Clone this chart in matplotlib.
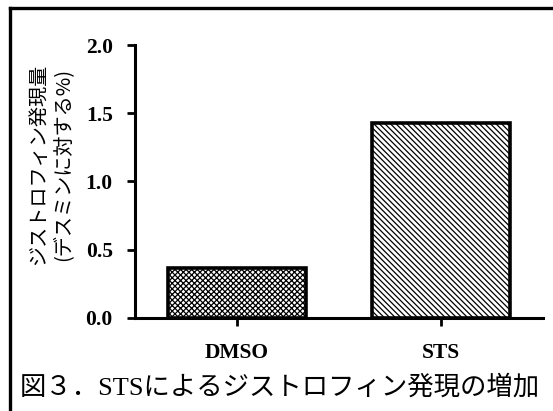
import numpy as np
import matplotlib.pyplot as plt
from matplotlib.lines import Line2D

# データ
groups = ["DMSO", "STS"]
values = [0.365, 1.43]
hatches = ["xxxxxx", "\\\\\\\\\\\\"]
yticks = [0.0, 0.5, 1.0, 1.5, 2.0]

serif_jp = ["Liberation Serif", "Noto Sans CJK JP"]

plt.rcParams["hatch.linewidth"] = 0.9

fig = plt.figure(figsize=(5.53, 4.11), dpi=100)
ax = fig.add_axes([0.2441, 0.2263, 0.7378, 0.6642])

x = np.arange(len(groups))
ax.bar(x, values, width=0.68, color="white", edgecolor="black",
       linewidth=2.6, hatch=hatches)

ax.set_xlim(-0.5, 1.5)
ax.set_ylim(0, 2.0)
ax.set_xticks(x)
ax.set_xticklabels(groups, fontfamily="Liberation Serif", fontweight="bold", fontsize=15.5)
ax.set_yticks(yticks)
ax.set_yticklabels([f"{v:.1f}" for v in yticks], fontfamily="Liberation Serif",
                   fontweight="bold", fontsize=15.5)
ax.tick_params(axis="y", length=6, width=2, pad=10)
ax.tick_params(axis="x", length=6, width=2, pad=12)

for s in ["top", "right"]:
    ax.spines[s].set_visible(False)
for s in ["left", "bottom"]:
    ax.spines[s].set_linewidth(2.2)

ax.set_ylabel("ジストロフィン発現量\n(デスミンに対する%)", fontfamily=["Noto Sans CJK JP"],
              fontsize=14.5, linespacing=1.2)
ax.yaxis.set_label_coords(-0.152, 0.562)

# 図の枠線とキャプション
fig.add_artist(Line2D([10 / 553, 10 / 553], [0, 1 - 8 / 411], color="black", lw=2.4,
                      transform=fig.transFigure))
fig.add_artist(Line2D([10 / 553, 1], [1 - 8 / 411, 1 - 8 / 411], color="black", lw=2.4,
                      transform=fig.transFigure))
fig.text(20 / 553, 1 - 387 / 411, "図３．STSによるジストロフィン発現の増加",
         fontfamily=serif_jp, fontsize=19, va="center", ha="left")

fig.savefig("out.png", dpi=100)
